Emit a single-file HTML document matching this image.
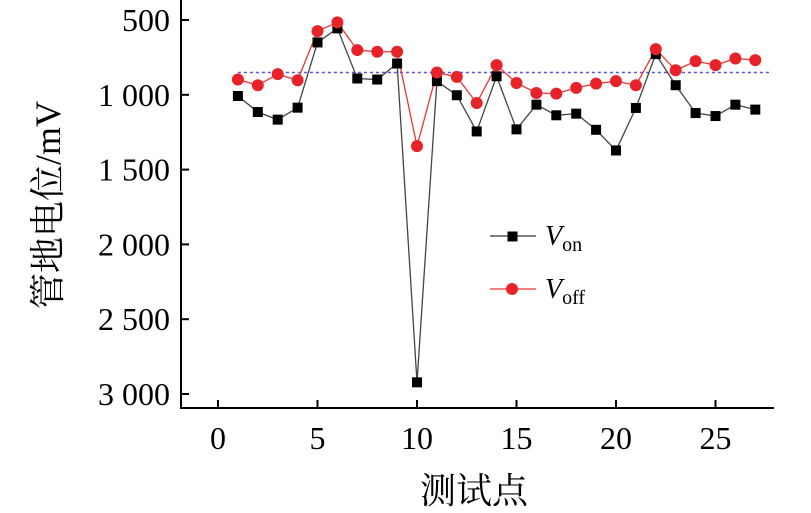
<!DOCTYPE html>
<html><head><meta charset="utf-8"><style>
body{margin:0;background:#fff;}
svg{display:block;}
text{font-family:"Liberation Serif","Noto Serif CJK SC",serif;fill:#000;}
</style></head><body>
<svg id="chart" width="811" height="513" viewBox="0 0 811 513" xmlns="http://www.w3.org/2000/svg">
<g id="axes"></g>
<g id="marks"></g>
<g>
 <line x1="490" y1="236" x2="536" y2="236" stroke="#333" stroke-width="1.3"/>
 <rect x="507.5" y="231.5" width="10" height="10" fill="#000"/>
 <text x="545" y="245" font-size="28" font-style="italic">V<tspan font-style="normal" font-size="20" dy="6">on</tspan></text>
 <line x1="490" y1="289" x2="536" y2="289" stroke="#e33" stroke-width="1.3"/>
 <circle cx="512" cy="289" r="6" fill="#e82229"/>
 <text x="545" y="298" font-size="28" font-style="italic">V<tspan font-style="normal" font-size="20" dy="6">off</tspan></text>
</g>
<text transform="translate(60,205) rotate(-90)" text-anchor="middle" font-size="36">管地电位/mV</text>
<text x="474" y="503" text-anchor="middle" font-size="36">测试点</text>
</svg>
<script>
const points = [1,2,3,4,5,6,7,8,9,10,11,12,13,14,15,16,17,18,19,20,21,22,23,24,25,26,27];
const vOn = [1008,1115,1166,1086,650,556,891,898,791,2922,909,1003,1245,876,1231,1066,1137,1126,1234,1372,1088,728,936,1122,1142,1066,1099];
const vOff = [898,936,862,903,574,516,701,712,712,1343,851,880,1055,802,921,988,992,954,925,909,936,695,836,775,802,757,768];
const refLevel = 851;
const xTicks = [0,5,10,15,20,25];
const yTicks = [500,1000,1500,2000,2500,3000];
const yTickLabels = ["500","1 000","1 500","2 000","2 500","3 000"];

const X = v => 218 + v*19.9;
const Y = v => 20 + (v-500)*74.8/500;
const NS = "http://www.w3.org/2000/svg";
function mk(parent, tag, attrs){const e=document.createElementNS(NS,tag);for(const k in attrs)e.setAttribute(k,attrs[k]);parent.appendChild(e);return e;}
const axes=document.getElementById('axes'), marks=document.getElementById('marks');

let a=mk(axes,'line',{x1:181,y1:0,x2:181,y2:409,stroke:'#000','stroke-width':2});


a=mk(axes,'line',{x1:180,y1:408,x2:774,y2:408,stroke:'#000','stroke-width':2});


xTicks.forEach(t=>{
 const l=mk(axes,'line',{x1:X(t),y1:408,x2:X(t),y2:400,stroke:'#000','stroke-width':2});
 
 
 const tx=mk(axes,'text',{x:X(t),y:449,'text-anchor':'middle','font-size':32});
 tx.textContent=t;
 
 
});
yTicks.forEach((t,i)=>{
 const l=mk(axes,'line',{x1:181,y1:Y(t),x2:189,y2:Y(t),stroke:'#000','stroke-width':2});
 
 
 const tx=mk(axes,'text',{x:170,y:Y(t)+11,'text-anchor':'end','font-size':32});
 tx.textContent=yTickLabels[i];
 
 
});
const ref=mk(marks,'line',{x1:X(1),y1:Y(refLevel),x2:772,y2:Y(refLevel),stroke:'#5555dd','stroke-width':1.5,'stroke-dasharray':'3,3'});



const lOn=mk(marks,'polyline',{points:points.map((p,i)=>X(p)+','+Y(vOn[i])).join(' '),fill:'none',stroke:'#444','stroke-width':1.3});


const lOff=mk(marks,'polyline',{points:points.map((p,i)=>X(p)+','+Y(vOff[i])).join(' '),fill:'none',stroke:'#e33','stroke-width':1.3});


points.forEach((p,i)=>{
 const r=mk(marks,'rect',{x:X(p)-5,y:Y(vOn[i])-5,width:10,height:10,fill:'#000'});
 
 
});
points.forEach((p,i)=>{
 const c=mk(marks,'circle',{cx:X(p),cy:Y(vOff[i]),r:6,fill:'#e82229'});
 
 
});
</script>
</body></html>
